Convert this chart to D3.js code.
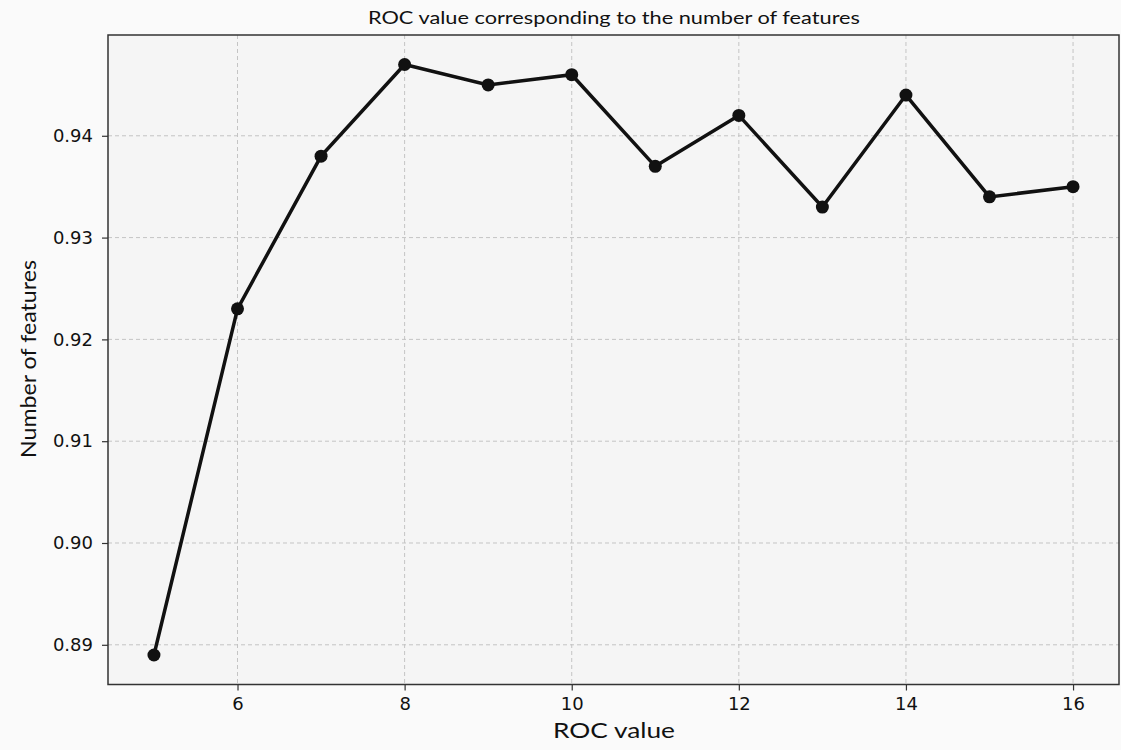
<!DOCTYPE html>
<html><head><meta charset="utf-8">
<script src="https://cdn.jsdelivr.net/npm/d3@7/dist/d3.min.js"></script>
<style>body{margin:0;background:#fafafa;} svg{display:block;} .tk text{font-family:"DejaVu Sans",Verdana,sans-serif;font-size:18px;fill:#111;}</style>
</head><body>
<svg id="c" width="1121" height="750"></svg>
<script>
const features = [5,6,7,8,9,10,11,12,13,14,15,16];
const rocValues = [0.889,0.923,0.938,0.947,0.945,0.946,0.937,0.942,0.933,0.944,0.934,0.935];
const xTicks = [6,8,10,12,14,16];
const yTicks = [0.89,0.90,0.91,0.92,0.93,0.94];
const titleText = "ROC value corresponding to the number of features";
const xLabel = "ROC value";
const yLabel = "Number of features";

const W=1121,H=750;
const m={left:108,right:1119,top:35,bottom:684.5};
const svg=d3.select("#c");
svg.append("rect").attr("width",W).attr("height",H).attr("fill","#fafafa");

const xr=[4.45,16.55];
const ymin=0.889,ymax=0.947,pad=(ymax-ymin)*0.05;
const x=d3.scaleLinear().domain(xr).range([m.left,m.right]);
const y=d3.scaleLinear().domain([ymin-pad,ymax+pad]).range([m.bottom,m.top]);

svg.append("rect").attr("x",m.left).attr("y",m.top).attr("width",m.right-m.left).attr("height",m.bottom-m.top).attr("fill","#f5f5f5");

const grid=svg.append("g").attr("stroke","#c4c4c4").attr("stroke-width",1).attr("stroke-dasharray","4,3");
grid.selectAll("line.vx").data(xTicks).join("line").attr("x1",d=>x(d)).attr("x2",d=>x(d)).attr("y1",m.top).attr("y2",m.bottom);
grid.selectAll("line.hy").data(yTicks).join("line").attr("y1",d=>y(d)).attr("y2",d=>y(d)).attr("x1",m.left).attr("x2",m.right);

const xAxis=svg.append("g").attr("class","tk").attr("transform",`translate(0,${m.bottom})`)
 .call(d3.axisBottom(x).tickValues(xTicks).tickSize(6).tickPadding(7).tickFormat(d3.format("d")));
const yAxis=svg.append("g").attr("class","tk").attr("transform",`translate(${m.left},0)`)
 .call(d3.axisLeft(y).tickValues(yTicks).tickSize(6).tickPadding(9).tickFormat(d3.format(".2f")));
[xAxis,yAxis].forEach(a=>{
 a.select(".domain").remove();a.selectAll("line").attr("stroke","#333").attr("stroke-width",1.2);});

svg.append("rect").attr("x",m.left).attr("y",m.top).attr("width",m.right-m.left).attr("height",m.bottom-m.top)
 .attr("fill","none").attr("stroke","#333").attr("stroke-width",1.5);

const line=d3.line().x((d,i)=>x(features[i])).y(d=>y(d));
svg.append("path").datum(rocValues).attr("d",line).attr("fill","none").attr("stroke","#111").attr("stroke-width",3.5).attr("stroke-linejoin","miter");
svg.selectAll("circle.p").data(rocValues).join("circle").attr("cx",(d,i)=>x(features[i])).attr("cy",d=>y(d)).attr("r",6.5).attr("fill","#111");

const ff="Lato, 'Open Sans', sans-serif";
svg.append("text").attr("x",614).attr("y",24).attr("text-anchor","middle").attr("font-family",ff).attr("font-size",17).attr("fill","#111")
 .attr("textLength",492).attr("lengthAdjust","spacingAndGlyphs").text(titleText);
svg.append("text").attr("x",614).attr("y",738).attr("text-anchor","middle").attr("font-family",ff).attr("font-size",21).attr("fill","#111")
 .attr("textLength",122).attr("lengthAdjust","spacingAndGlyphs").text(xLabel);
svg.append("text").attr("transform","translate(36,359) rotate(-90)").attr("text-anchor","middle").attr("font-family",ff).attr("font-size",21).attr("fill","#111")
 .attr("textLength",198).attr("lengthAdjust","spacingAndGlyphs").text(yLabel);
</script>
</body></html>
